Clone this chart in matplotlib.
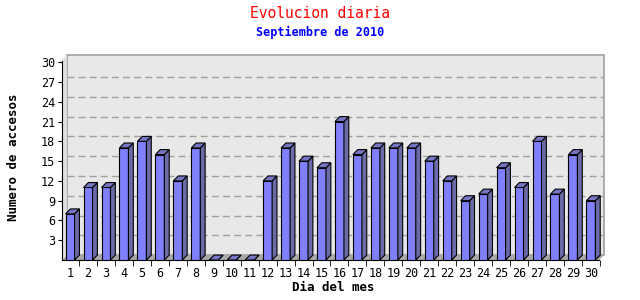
import numpy as np
import matplotlib
matplotlib.use("Agg")
import matplotlib.pyplot as plt
from matplotlib.patches import Polygon, Rectangle

# data
dias = list(range(1, 31))
accesos = [7, 11, 11, 17, 18, 16, 12, 17, 0, 0, 0, 12, 17, 15, 14,
           21, 16, 17, 17, 17, 15, 12, 9, 10, 14, 11, 18, 10, 16, 9]
yticks = [3, 6, 9, 12, 15, 18, 21, 24, 27, 30]

titulo = "Evolucion diaria"
subtitulo = "Septiembre de 2010"
xlabel = "Dia del mes"
ylabel = "Numero de accesos"

mono = "DejaVu Sans Mono"

fig = plt.figure(figsize=(6.4, 3.0), dpi=100)
ax = fig.add_axes([62 / 640, 40 / 300, 542 / 640, 205 / 300])

x0, x1 = 0.55, 30.73
ytop = 31.1
dx, dy = 0.27, 0.75   # depth of the fake 3d effect
w = 0.5

ax.set_xlim(x0, x1)
ax.set_ylim(0, ytop)
ax.set_facecolor("none")

# back panel, floor and grid
ax.add_patch(Rectangle((x0 + dx, dy), x1 - x0 - dx, ytop - dy, facecolor="#e8e8e8",
                       edgecolor="#a0a0a0", lw=1.2, zorder=0, clip_on=False))
ax.add_patch(Polygon([(x0, 0), (x0 + dx, dy), (x1, dy), (x1 - dx, 0)],
                     facecolor="#a8a8a8", edgecolor="none", zorder=1))
ax.add_patch(Polygon([(x0, 0), (x0 + dx, dy), (x0 + dx, ytop), (x0, ytop - dy)],
                     facecolor="#e0e0e0", edgecolor="none", zorder=1))
for v in yticks[:-1]:
    ax.plot([x0 + dx, x1], [v + dy, v + dy], color="#a0a0a0", lw=1,
            dashes=(5, 3), zorder=1)

# bars with side and top faces
for d, v in zip(dias, accesos):
    l, r = d - w / 2, d + w / 2
    ax.add_patch(Rectangle((l, 0), w, v, facecolor="#8080ff", edgecolor="black",
                           lw=0.8, zorder=3))
    ax.add_patch(Polygon([(r, 0), (r + dx, dy), (r + dx, v + dy), (r, v)],
                         facecolor="#6b6ba8", edgecolor="black", lw=0.8, zorder=3))
    ax.add_patch(Polygon([(l, v), (l + dx, v + dy), (r + dx, v + dy), (r, v)],
                         facecolor="#7676c4", edgecolor="black", lw=0.8, zorder=3))

ax.spines["top"].set_visible(False)
ax.spines["right"].set_visible(False)
ax.spines["bottom"].set_bounds(x0, x1 - dx)
ax.spines["left"].set_bounds(0, ytop - 0.9)

ax.set_xticks(dias)
ax.set_xticklabels([str(d) for d in dias], fontsize=8.5, family=mono)
ax.set_xticks([d + 0.5 for d in dias], minor=True)
ax.tick_params(axis="x", which="major", length=0, pad=5)
ax.tick_params(axis="x", which="minor", length=4, direction="out")
ax.set_yticks(yticks)
ax.set_yticklabels([str(v) for v in yticks], fontsize=8.5, family=mono)
ax.tick_params(axis="y", length=3, pad=2)

ax.set_xlabel(xlabel, fontsize=9, family=mono, fontweight="bold", labelpad=1)
ax.set_ylabel(ylabel, fontsize=9, family=mono, fontweight="bold", labelpad=15)

fig.text(0.5, 1 - 14 / 300, titulo, color="red", fontsize=10.5, family=mono,
         ha="center", va="center")
fig.text(0.5, 1 - 32 / 300, subtitulo, color="blue", fontsize=8.5, family=mono,
         fontweight="bold", ha="center", va="center")

fig.savefig("out.png", dpi=100)
